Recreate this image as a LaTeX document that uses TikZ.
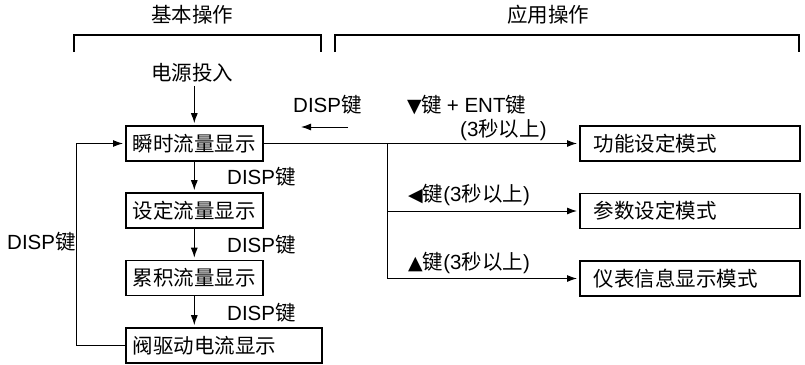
\documentclass[tikz,border=0pt]{standalone}
\usepackage{fontspec}
\setmainfont{Noto Sans CJK SC}
\newfontfamily\latn{Liberation Sans}
\newfontfamily\symb{DejaVu Sans}
\newcommand\lat[1]{{\latn #1}}
\newcommand\tri[1]{{\symb\fontsize{19}{22}\selectfont #1}}
\usetikzlibrary{arrows.meta}

\tikzset{
  dispbox/.style={draw, line width=1.6pt, minimum height=35pt, inner xsep=7pt, anchor=west},
  modebox/.style={draw, line width=1.6pt, minimum height=35pt, text width=192pt,
    inner xsep=14pt, align=left, anchor=west},
  lbl/.style={inner sep=0pt, anchor=west},
  flow/.style={-{Latex[length=10pt,width=7pt]}, line width=1pt, shorten >=2pt},
  brace/.style={line width=1.2pt},
}

\begin{document}
\begin{tikzpicture}[x=1pt, y=-1pt, font=\fontsize{20.5}{24}\selectfont]
  \useasboundingbox (0,0) rectangle (805,364);
  % brackets
  \draw[brace] (74,52) -- (74,35) -- (321,35) -- (321,52);
  \draw[brace] (335,52) -- (335,35) -- (799,35) -- (799,52);
  \node (basic) at (192,15) {基本操作};
  \node (appl) at (548,15) {应用操作};

  % basic operation
  \node (pwr) at (192,73) {电源投入};
  \node[dispbox] (inst) at (125,143.5) {瞬时流量显示};
  \node[dispbox] (sett) at (125,210.5) {设定流量显示};
  \node[dispbox] (totl) at (125,278) {累积流量显示};
  \node[dispbox, text width=182pt, align=left] (valv) at (125,345.5) {阀驱动电流显示};
  \coordinate (loop) at (76,345.5);

  % application modes
  \node[modebox] (func) at (579,143.5) {功能设定模式};
  \node[modebox] (para) at (579,211) {参数设定模式};
  \node[modebox] (info) at (579,278.5) {仪表信息显示模式};
  \coordinate (fork) at (387,143.5);
  \coordinate (bk1) at (348,127);
  \coordinate (bk2) at (299,127);

  % labels
  \node[lbl] (d0) at (293,105) {\lat{DISP}键};
  \node[lbl] (d1) at (227,177) {\lat{DISP}键};
  \node[lbl] (d2) at (227,245) {\lat{DISP}键};
  \node[lbl] (d3) at (227,313) {\lat{DISP}键};
  \node[lbl] (d4) at (7,242) {\lat{DISP}键};
  \node[lbl] (k1) at (407,105) {\tri{▼}键 \lat{+ ENT}键};
  \node[lbl] (k1b) at (460,130) {\lat{(3}秒以上\lat{)}};
  \node[lbl] (k2) at (408,195) {\tri{◀}键\lat{(3}秒以上\lat{)}};
  \node[lbl] (k3) at (408,263) {\tri{▲}键\lat{(3}秒以上\lat{)}};

  % connectors
  \draw[flow] (pwr.south -| inst.north) -- (inst.north);
  \draw[flow] (inst) -- (sett);
  \draw[flow] (sett) -- (totl);
  \draw[flow] (totl) -- (totl |- valv.north);
  \draw[flow] (valv.west) -- (loop) |- (inst.west);
  \draw[flow] (bk1) -- (bk2);
  \draw[flow] (inst) -- (func);
  \draw[flow] (fork) |- (para);
  \draw[flow] (fork) |- (info);
\end{tikzpicture}
\end{document}
